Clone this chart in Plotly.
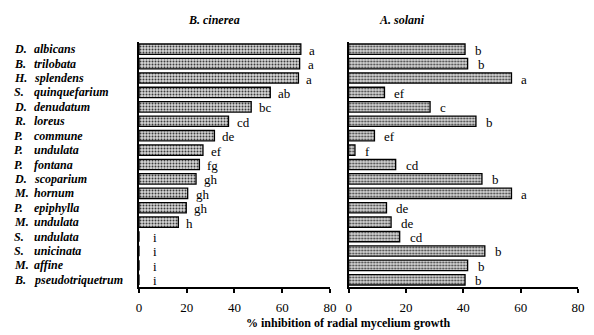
import plotly.graph_objects as go

genus = ["D.", "B.", "H.", "S.", "D.", "R.", "P.", "P.", "P.", "D.", "M.", "P.", "M.", "S.", "S.", "M.", "B."]
species = ["albicans", "trilobata", "splendens", "quinquefarium", "denudatum", "loreus", "commune",
           "undulata", "fontana", "scoparium", "hornum", "epiphylla", "undulata", "undulata",
           "unicinata", "affine", "pseudotriquetrum"]
cinerea = [67.8, 67.3, 66.8, 55.0, 47.0, 37.5, 31.6, 26.8, 25.3, 23.9, 20.4, 19.8, 16.5, 0, 0, 0, 0]
cinerea_letters = ["a", "a", "a", "ab", "bc", "cd", "de", "ef", "fg", "gh", "gh", "gh", "h", "i", "i", "i", "i"]
solani = [40.6, 41.5, 56.8, 12.5, 28.4, 44.4, 9.0, 2.2, 16.4, 46.5, 56.8, 13.2, 14.8, 17.8, 47.5, 41.5, 40.6]
solani_letters = ["b", "b", "a", "ef", "c", "b", "ef", "f", "cd", "b", "a", "de", "de", "cd", "b", "b", "b"]
ticks = [0, 20, 40, 60, 80]

FONT = "Liberation Serif"
W, H = 594, 335
ML, MR, MT, MB = 139, 9, 42, 48
PW = W - ML - MR
PH = H - MT - MB

ypos = list(range(len(species)))

pattern = dict(shape=".", fgcolor="#3c3c3c", bgcolor="#d6d6d6", size=3, solidity=0.35, fillmode="replace")

fig = go.Figure()
for vals, xa, ya in [(cinerea, "x", "y"), (solani, "x2", "y2")]:
    fig.add_trace(go.Bar(
        x=vals, y=ypos, orientation="h", xaxis=xa, yaxis=ya, width=0.72,
        marker=dict(color="#a8a8a8", pattern=pattern, line=dict(color="black", width=1.3)),
        showlegend=False, hoverinfo="skip",
    ))

ann = []
for i, (g, s) in enumerate(zip(genus, species)):
    ann.append(dict(x=(10 - ML) / PW, y=i, xref="paper", yref="y", text=f"<b><i>{g}</i></b>",
                    showarrow=False, xanchor="left", yanchor="middle",
                    font=dict(family=FONT, size=12, color="black")))
    ann.append(dict(x=(30 - ML) / PW, y=i, xref="paper", yref="y", text=f"<b><i>{s}</i></b>",
                    showarrow=False, xanchor="left", yanchor="middle",
                    font=dict(family=FONT, size=12, color="black")))

for i, (v, l) in enumerate(zip(cinerea, cinerea_letters)):
    ann.append(dict(x=v, y=i, xref="x", yref="y", text=l, showarrow=False, xanchor="left",
                    yanchor="middle", xshift=(12 if v == 0 else 6), yshift=-1,
                    font=dict(family=FONT, size=13, color="black")))
for i, (v, l) in enumerate(zip(solani, solani_letters)):
    ann.append(dict(x=v, y=i, xref="x2", yref="y2", text=l, showarrow=False, xanchor="left",
                    yanchor="middle", xshift=8, yshift=-1,
                    font=dict(family=FONT, size=13, color="black")))

ann.append(dict(x=(215 - ML) / PW, y=1 + (MT - 20) / PH, xref="paper", yref="paper",
                text="<b><i>B. cinerea</i></b>", showarrow=False, xanchor="center", yanchor="middle",
                font=dict(family=FONT, size=12, color="black")))
ann.append(dict(x=(406 - ML) / PW, y=1 + (MT - 20) / PH, xref="paper", yref="paper",
                text="<b><i>A. solani</i></b>", showarrow=False, xanchor="center", yanchor="middle",
                font=dict(family=FONT, size=12, color="black")))
ann.append(dict(x=(351 - ML) / PW, y=-(323 - (MT + PH)) / PH, xref="paper", yref="paper",
                text="<b>% inhibition of radial mycelium growth</b>", showarrow=False,
                xanchor="center", yanchor="middle",
                font=dict(family=FONT, size=12, color="black")))

xcommon = dict(range=[0, 80], tickvals=ticks, ticktext=[str(t) for t in ticks], showgrid=False,
               zeroline=False, showline=True, linecolor="black", linewidth=1.5,
               ticks="outside", ticklen=4, tickwidth=1.5, tickcolor="black",
               ticklabelstandoff=4, tickfont=dict(family=FONT, size=13, color="black"), fixedrange=True)
ycommon = dict(range=[len(species) - 0.5, -0.5], showgrid=False, zeroline=False, showline=True,
               linecolor="black", linewidth=1.8, showticklabels=False, ticks="", fixedrange=True)

fig.update_layout(
    width=W, height=H, margin=dict(l=ML, r=MR, t=MT, b=MB),
    paper_bgcolor="white", plot_bgcolor="white",
    xaxis=dict(domain=[0, (333 - ML) / PW], anchor="y", **xcommon),
    xaxis2=dict(domain=[(352 - ML) / PW, 1], anchor="y2", **xcommon),
    yaxis=dict(anchor="x", **ycommon),
    yaxis2=dict(anchor="x2", **ycommon),
    annotations=ann, bargap=0.28,
)

fig.write_html("out.html", config={"displayModeBar": False},
               post_script="document.body.style.margin='0';document.body.style.overflow='hidden';")
